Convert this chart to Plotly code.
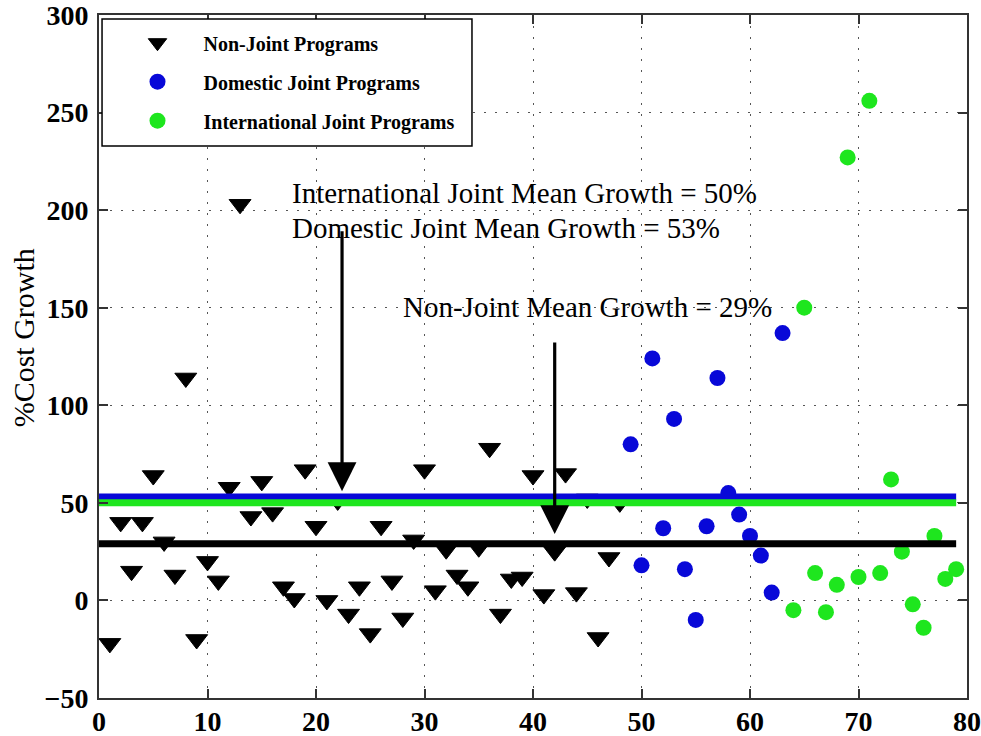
import plotly.graph_objects as go

# Program index and percent cost growth for each program group
nonjoint_idx = list(range(1, 49))
nonjoint_growth = [-22, 40, 15, 40, 64, 30, 13, 114, -20, 20, 10, 58, 203, 43, 61, 45,
                   7, 1, 67, 38, 0, 51, -7, 7, -17, 38, 10, -9, 31, 67, 5, 26,
                   13, 7, 27, 78, -7, 11, 12, 64, 3, 25, 65, 4, 52, -19, 22, 50]

domestic_idx = list(range(49, 64))
domestic_growth = [80, 18, 124, 37, 93, 16, -10, 38, 114, 55, 44, 33, 23, 4, 137]

intl_idx = list(range(64, 80))
intl_growth = [-5, 150, 14, -6, 8, 227, 12, 256, 14, 62, 25, -2, -14, 33, 11, 16]

# Mean growth per group (as stated in the annotations)
mean_nonjoint = 29
mean_domestic = 53
mean_intl = 50
mean_span = [0, 79]

x_ticks = [0, 10, 20, 30, 40, 50, 60, 70, 80]
y_ticks = [-50, 0, 50, 100, 150, 200, 250, 300]

BLUE = "#0808d8"
GREEN = "#1ee61e"
SERIF = "Liberation Serif"

fig = go.Figure()

fig.add_trace(go.Scatter(
    x=nonjoint_idx, y=nonjoint_growth, mode="markers", name="Non-Joint Programs",
    legendgroup="a",
    marker=dict(symbol="triangle-down", size=19, color="black",
                line=dict(color="black", width=1)),
))
fig.add_trace(go.Scatter(
    x=domestic_idx, y=domestic_growth, mode="markers", name="Domestic Joint Programs",
    legendgroup="b",
    marker=dict(symbol="circle", size=16, color=BLUE),
))
fig.add_trace(go.Scatter(
    x=intl_idx, y=intl_growth, mode="markers", name="International Joint Programs",
    legendgroup="c",
    marker=dict(symbol="circle", size=16, color=GREEN),
))

# Mean lines drawn over the markers
for val, col in [(mean_domestic, BLUE), (mean_intl, GREEN), (mean_nonjoint, "black")]:
    fig.add_trace(go.Scatter(
        x=mean_span, y=[val, val], mode="lines", showlegend=False,
        line=dict(color=col, width=7), hoverinfo="skip",
    ))

text_font = dict(family=SERIF, size=29, color="black")
fig.add_annotation(x=17.6, y=209, xref="x", yref="y", xanchor="left", yanchor="middle",
                   text=f"International Joint Mean Growth = {mean_intl}%",
                   showarrow=False, font=text_font)
fig.add_annotation(x=17.6, y=191, xref="x", yref="y", xanchor="left", yanchor="middle",
                   text=f"Domestic Joint Mean Growth = {mean_domestic}%",
                   showarrow=False, font=text_font)
fig.add_annotation(x=27.8, y=150.5, xref="x", yref="y", xanchor="left", yanchor="middle",
                   text=f"Non-Joint Mean Growth = {mean_nonjoint}%",
                   showarrow=False, font=text_font)

# Arrows pointing at the mean lines
for xa, ytop, ytip in [(22.4, 190, 56), (42.0, 133, 34)]:
    fig.add_annotation(x=xa, y=ytip, ax=xa, ay=ytop, xref="x", yref="y",
                       axref="x", ayref="y", text="", showarrow=True,
                       arrowhead=2, arrowsize=1.8, arrowwidth=3.2, arrowcolor="black")

# Y-axis label
fig.add_annotation(x=-0.0876, y=0.528, xref="paper", yref="paper",
                   xanchor="center", yanchor="middle", textangle=-90,
                   text="%Cost Growth", showarrow=False,
                   font=dict(family=SERIF, size=30, color="black"))

# Legend frame
fig.add_shape(type="rect", xref="paper", yref="paper",
              x0=0.0035, x1=0.4297, y0=0.8082, y1=0.9941,
              line=dict(color="black", width=1.5), fillcolor="white", layer="above")

axis_common = dict(
    showline=True, linecolor="#333333", linewidth=2, mirror="ticks",
    ticks="inside", ticklen=9, tickwidth=1.5, tickcolor="#333333",
    showgrid=True, gridcolor="#555555", gridwidth=1.3, griddash="2px,9px",
    zeroline=False, automargin=False, ticklabeloverflow="allow",
    tickfont=dict(family=SERIF, size=28, color="black", weight="bold"),
)

fig.update_xaxes(range=[0, 80], tickvals=x_ticks, ticklabelstandoff=-3, **axis_common)
fig.update_yaxes(range=[-50, 300], tickvals=y_ticks, ticklabelstandoff=3, **axis_common)

fig.update_layout(
    width=981, height=736,
    margin=dict(l=99, r=14, t=15, b=38, autoexpand=False),
    paper_bgcolor="white", plot_bgcolor="white",
    legend=dict(
        x=0.0144, y=0.988, xanchor="left", yanchor="top",
        bgcolor="rgba(0,0,0,0)", borderwidth=0,
        font=dict(family=SERIF, size=20, color="black", weight="bold"),
        itemwidth=82, tracegroupgap=10,
    ),
)

fig.write_html("out.html")
